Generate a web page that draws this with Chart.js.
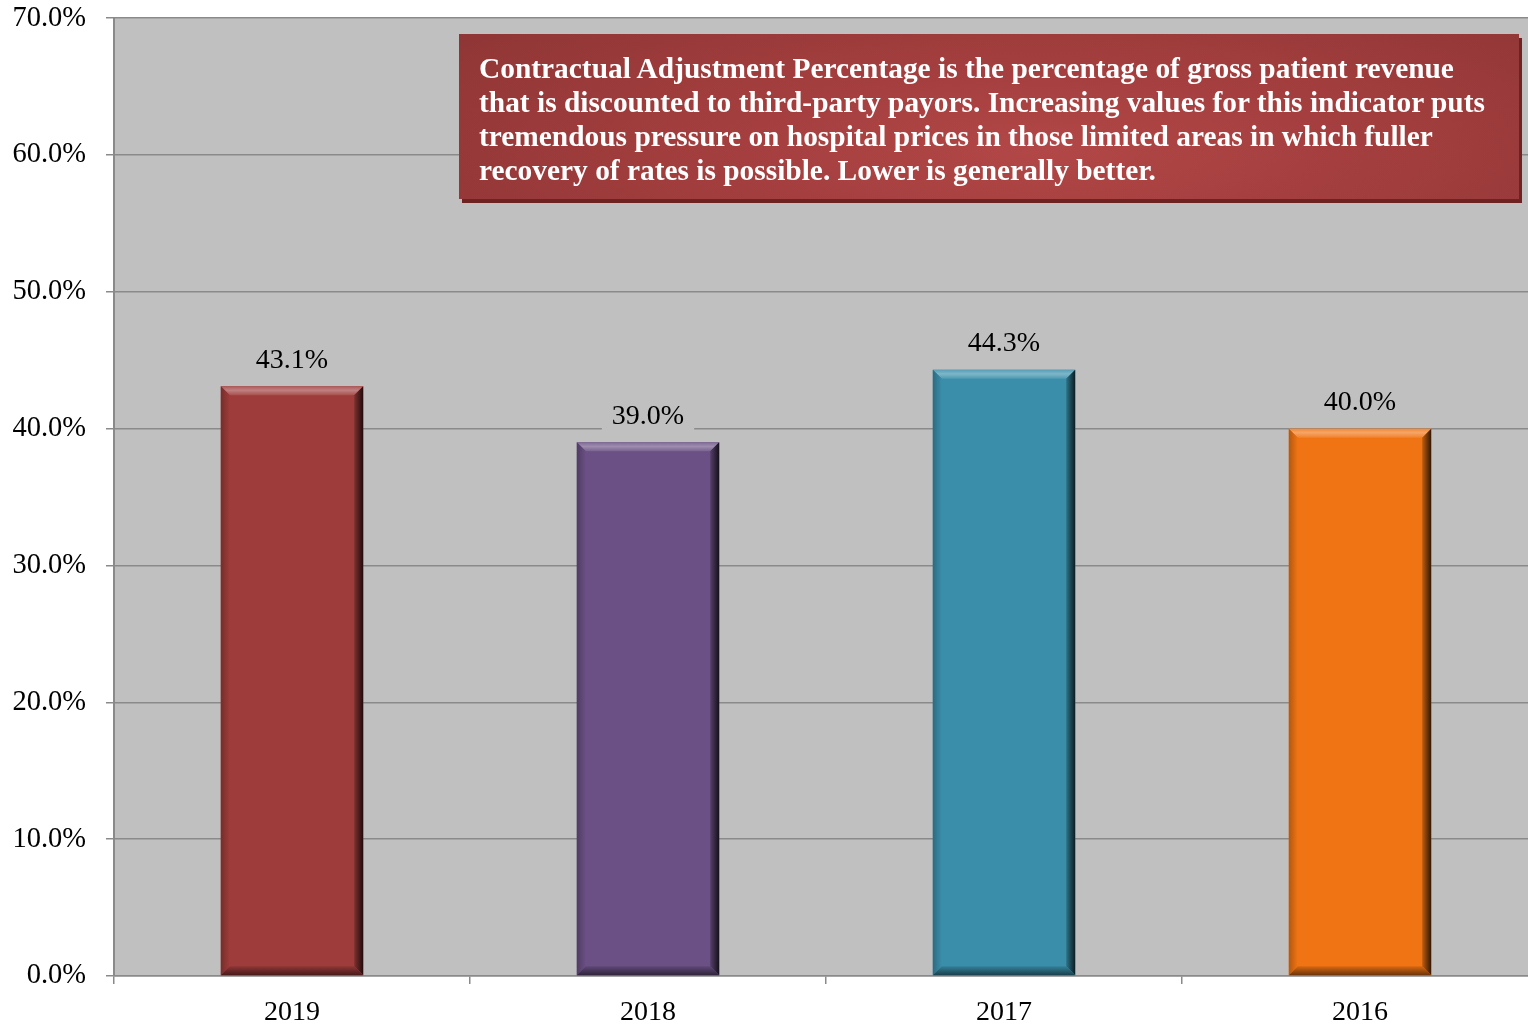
<!DOCTYPE html>
<html>
<head>
<meta charset="utf-8">
<script src="https://cdn.jsdelivr.net/npm/chart.js@4/dist/chart.umd.min.js"></script>
<style>
  html, body { margin: 0; padding: 0; background: #ffffff; overflow: hidden; }
  #wrap { position: relative; width: 1528px; height: 1026px; overflow: hidden; }
  #c { position: absolute; left: 0; top: -19px; }
  #note {
    position: absolute; left: 459px; top: 34px; width: 1060px; height: 165px;
    box-sizing: border-box; padding: 17px 0 0 20px;
    background: radial-gradient(ellipse 70% 120% at 55% 70%, #b24747 0%, #a33e3e 45%, #8f3535 100%);
    box-shadow: 3px 4px 0 #6e2323;
    color: #ffffff; font-family: 'Liberation Serif', 'Times New Roman', serif;
    font-weight: bold; font-size: 29.4px; line-height: 34px; white-space: nowrap;
  }
</style>
</head>
<body>
<div id="wrap">
  <canvas id="c" width="1538" height="1045"></canvas>
  <div id="note">Contractual Adjustment Percentage is the percentage of gross patient revenue<br>that is discounted to third-party payors. Increasing values for this indicator puts<br>tremendous pressure on hospital prices in those limited areas in which fuller<br>recovery of rates is possible. Lower is generally better.</div>
</div>
<script>
const categories = ['2019', '2018', '2017', '2016'];
const values = [43.1, 39.0, 44.3, 40.0];
const barColors = ['#9E3C3B', '#6A5084', '#3A8EAA', '#F07414'];
const yMin = 0, yMax = 70, yStep = 10;

function shade(hex, amt) {
  const n = parseInt(hex.slice(1), 16);
  let r = (n >> 16) & 255, g = (n >> 8) & 255, b = n & 255;
  if (amt >= 0) { r += (255 - r) * amt; g += (255 - g) * amt; b += (255 - b) * amt; }
  else { r *= 1 + amt; g *= 1 + amt; b *= 1 + amt; }
  return 'rgb(' + Math.round(r) + ',' + Math.round(g) + ',' + Math.round(b) + ')';
}

const plotBg = {
  id: 'plotBg',
  beforeDraw(chart) {
    const { ctx, chartArea: a } = chart;
    ctx.save();
    ctx.fillStyle = '#C0C0C0';
    ctx.fillRect(a.left, a.top, a.right - a.left, a.bottom - a.top);
    ctx.restore();
  }
};

const bevel = {
  id: 'bevel',
  afterDatasetsDraw(chart) {
    const ctx = chart.ctx;
    const meta = chart.getDatasetMeta(0);
    meta.data.forEach((bar, i) => {
      const p = bar.getProps(['x', 'y', 'base', 'width'], true);
      const L = p.x - p.width / 2, R = p.x + p.width / 2, T = p.y, B = p.base;
      const b = 9, c = barColors[i];
      ctx.save();
      let g = ctx.createLinearGradient(0, T, 0, T + b);
      g.addColorStop(0, shade(c, 0.15));
      g.addColorStop(0.45, shade(c, 0.35));
      g.addColorStop(1, shade(c, 0.1));
      ctx.fillStyle = g;
      ctx.beginPath(); ctx.moveTo(L, T); ctx.lineTo(R, T); ctx.lineTo(R - b, T + b); ctx.lineTo(L + b, T + b); ctx.closePath(); ctx.fill();
      g = ctx.createLinearGradient(L, 0, L + b, 0);
      g.addColorStop(0, shade(c, -0.25));
      g.addColorStop(1, shade(c, 0));
      ctx.fillStyle = g;
      ctx.beginPath(); ctx.moveTo(L, T); ctx.lineTo(L + b, T + b); ctx.lineTo(L + b, B - b); ctx.lineTo(L, B); ctx.closePath(); ctx.fill();
      g = ctx.createLinearGradient(R - b, 0, R, 0);
      g.addColorStop(0, shade(c, -0.2));
      g.addColorStop(1, shade(c, -0.8));
      ctx.fillStyle = g;
      ctx.beginPath(); ctx.moveTo(R, T); ctx.lineTo(R, B); ctx.lineTo(R - b, B - b); ctx.lineTo(R - b, T + b); ctx.closePath(); ctx.fill();
      g = ctx.createLinearGradient(0, B - b, 0, B);
      g.addColorStop(0, shade(c, -0.1));
      g.addColorStop(1, shade(c, -0.55));
      ctx.fillStyle = g;
      ctx.beginPath(); ctx.moveTo(L, B); ctx.lineTo(R, B); ctx.lineTo(R - b, B - b); ctx.lineTo(L + b, B - b); ctx.closePath(); ctx.fill();
      ctx.restore();
    });
  }
};

const dataLabels = {
  id: 'dataLabels',
  afterDatasetsDraw(chart) {
    const ctx = chart.ctx;
    const meta = chart.getDatasetMeta(0);
    ctx.save();
    ctx.font = '28px "Liberation Serif", "Times New Roman", serif';
    ctx.textAlign = 'center';
    ctx.textBaseline = 'middle';
    meta.data.forEach((bar, i) => {
      const txt = values[i].toFixed(1) + '%';
      const cy = bar.y - 27;
      const w = ctx.measureText(txt).width + 20;
      ctx.fillStyle = '#C0C0C0';
      ctx.fillRect(bar.x - w / 2, cy - 17, w, 34);
      ctx.fillStyle = '#000000';
      ctx.fillText(txt, bar.x, cy + 1);
    });
    ctx.restore();
  }
};

new Chart(document.getElementById('c'), {
  type: 'bar',
  data: {
    labels: categories,
    datasets: [{
      data: values,
      backgroundColor: barColors,
      borderWidth: 0,
      categoryPercentage: 1.0,
      barPercentage: 0.40
    }]
  },
  options: {
    responsive: false,
    animation: false,
    events: [],
    layout: { padding: { top: 0, right: 0, left: 0, bottom: 0 } },
    plugins: { legend: { display: false }, tooltip: { enabled: false } },
    scales: {
      x: {
        afterFit(s) { s.height = 50; },
        grid: { display: true, drawOnChartArea: false, drawTicks: true, tickLength: 8, color: '#8a8a8a', lineWidth: 1.5, offset: true },
        border: { display: true, color: '#8a8a8a', width: 1.5 },
        ticks: { color: '#000000', padding: 12, font: { family: '"Liberation Serif", "Times New Roman", serif', size: 28 } }
      },
      y: {
        min: yMin, max: yMax,
        afterFit(s) { s.width = 114; },
        grid: { color: '#8a8a8a', lineWidth: 1.5, tickLength: 8, drawTicks: true },
        border: { display: true, color: '#8a8a8a', width: 2 },
        ticks: {
          stepSize: yStep, color: '#000000', padding: 20,
          font: { family: '"Liberation Serif", "Times New Roman", serif', size: 28.5 },
          callback: v => v.toFixed(1) + '%'
        }
      }
    }
  },
  plugins: [plotBg, bevel, dataLabels]
});
</script>
</body>
</html>
